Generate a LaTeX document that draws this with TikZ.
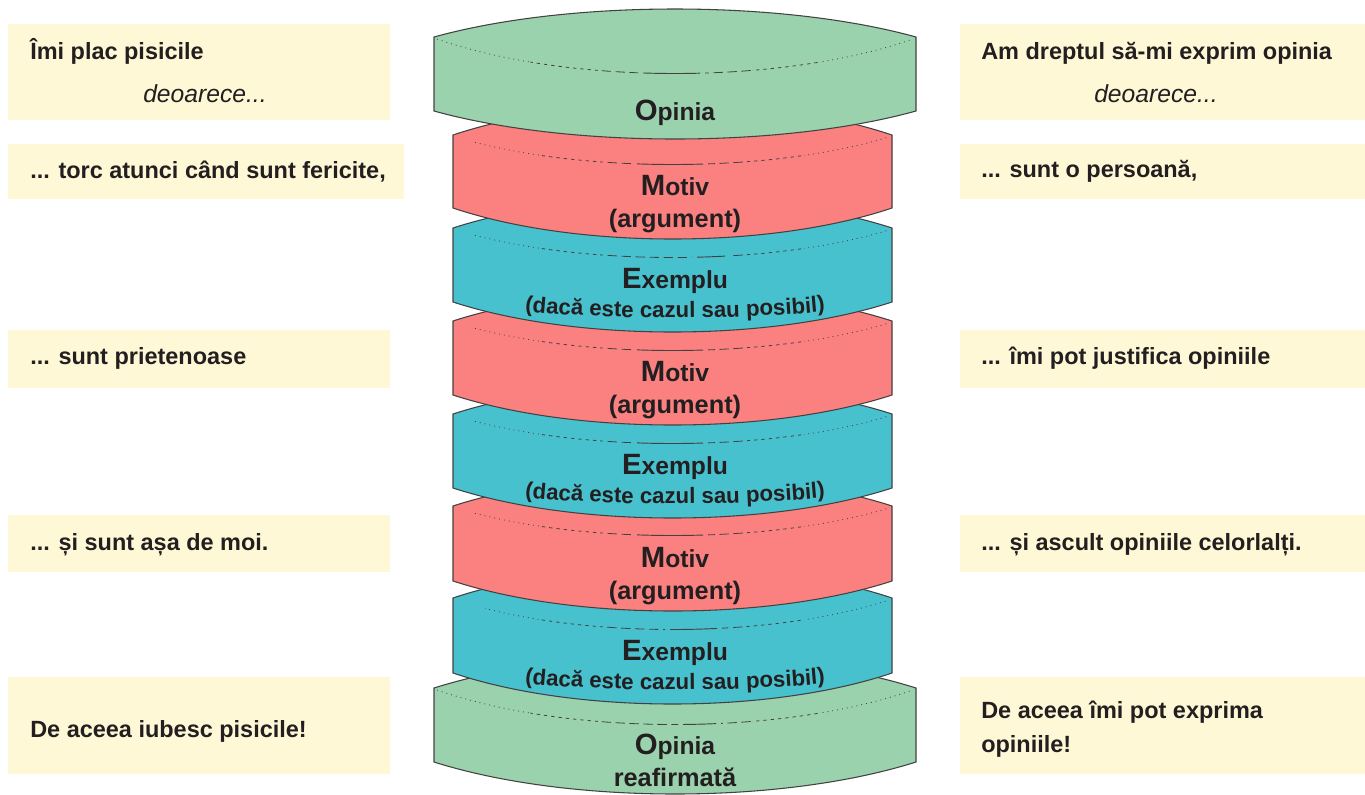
\documentclass[tikz,border=0pt]{standalone}
\usepackage{fontspec}
\setmainfont{Liberation Sans}
\usetikzlibrary{decorations.text}
\definecolor{cream}{HTML}{FFF8D6}
\definecolor{diskgreen}{HTML}{9BD2AE}
\definecolor{diskred}{HTML}{FB8181}
\definecolor{diskblue}{HTML}{48C1CF}
\definecolor{ink}{HTML}{231F20}
\newcommand{\disk}[6]{% xl xr ytop yside dip fill
  \draw[diskline,fill=#6] (#1,#3) .. controls ({#1+(#2-#1)*0.28},{#3-#5*4/3}) and ({#2-(#2-#1)*0.28},{#3-#5*4/3}) .. (#2,#3)
     -- (#2,#4) .. controls ({#2-(#2-#1)*0.28},{#4+#5*4/3}) and ({#1+(#2-#1)*0.28},{#4+#5*4/3}) .. (#1,#4) -- cycle;
}
\newcommand{\dashcurve}[7]{% xl xr ytop dip centre-from centre-to dotted-start
  \pgfmathsetmacro{\myW}{#2-#1}
  \pgfmathsetmacro{\myA}{#1+0.20*\myW}
  \pgfmathsetmacro{\myB}{#1+0.34*\myW}
  \pgfmathsetmacro{\myC}{#5-5}
  \pgfmathsetmacro{\myD}{#6+5}
  \pgfmathsetmacro{\myE}{#2-0.34*\myW}
  \pgfmathsetmacro{\myF}{#2-0.20*\myW}
  \foreach \from/\to/\sty in {#7/\myA/dotline,\myA/\myB/shortdash,\myB/\myC/longdash,#5/#6/solidline,\myD/\myE/longdash,\myE/\myF/shortdash,\myF/#2/dotline}{
    \begin{scope}
      \clip (\from,0) rectangle (\to,794);
      \draw[\sty] ({#1+3},{#3+2}) .. controls ({#1+(#2-#1)*0.28},{#3+#4*4/3}) and ({#2-(#2-#1)*0.28},{#3+#4*4/3}) .. ({#2-3},{#3+2});
    \end{scope}
  }
}
\tikzset{
  x=0.75pt,y=-0.75pt,
  diskline/.style={draw=ink!85,line width=0.8pt},
  dotline/.style={draw=ink!85,line width=0.6pt,dash pattern=on 0.7pt off 3pt},
  shortdash/.style={draw=ink!85,line width=0.6pt,dash pattern=on 2.5pt off 3pt},
  longdash/.style={draw=ink!85,line width=0.6pt,dash pattern=on 7pt off 3.5pt},
  solidline/.style={draw=ink!85,line width=0.7pt},
  textbox/.style={fill=cream,draw=none,anchor=north west,inner sep=0pt},
  boxtext/.style={anchor=base west,inner sep=0pt,font=\bfseries\fontsize{17.6}{20}\selectfont,text=ink},
  boxital/.style={anchor=base west,inner sep=0pt,font=\itshape\fontsize{18.5}{20}\selectfont,text=ink},
  disktext/.style={anchor=base,inner sep=0pt,font=\bfseries\fontsize{18.5}{20}\selectfont,text=ink},
  disksub/.style={anchor=base,inner sep=0pt,font=\bfseries\fontsize{19}{20}\selectfont,text=ink},
}
\newcommand{\capfont}{\fontsize{22}{20}\selectfont}
\newcommand{\smfont}{\bfseries\fontsize{16.7}{18}\selectfont}
\newcommand{\creambox}[5]{\node[textbox,minimum width={(#3-#1)*0.75pt},minimum height={(#4-#2)*0.75pt}] (#5) at (#1,#2) {};}
\begin{document}
\begin{tikzpicture}
\useasboundingbox (0,0) rectangle (1365,794);
% cream boxes
\creambox{8}{24}{390}{120}{la}
\creambox{8}{144}{404}{199}{lb}
\creambox{8}{330}{390}{388}{lc}
\creambox{8}{515}{390}{572}{ld}
\creambox{8}{677}{390}{774}{le}
\creambox{960}{24}{1365}{120}{ra}
\creambox{960}{144}{1365}{199}{rb}
\creambox{960}{330}{1365}{388}{rc}
\creambox{960}{515}{1365}{572}{rd}
\creambox{960}{677}{1365}{774}{re}
% disks, lowest first
\disk{434}{916}{688}{762}{32}{diskgreen}
\dashcurve{434}{916}{688}{36}{683}{716}{434}
\disk{453}{892}{598}{673}{31}{diskblue}
\dashcurve{453}{892}{598}{31}{670}{717}{485}
\disk{453}{892}{506}{581}{30}{diskred}
\dashcurve{453}{892}{506}{29}{637}{703}{473}
\disk{453}{892}{414}{488}{30}{diskblue}
\dashcurve{453}{892}{414}{29}{637}{703}{473}
\disk{453}{892}{321}{395}{30}{diskred}
\dashcurve{453}{892}{321}{29}{637}{703}{473}
\disk{453}{892}{228}{302}{30}{diskblue}
\dashcurve{453}{892}{228}{29}{697}{725}{473}
\disk{453}{892}{135}{208}{31}{diskred}
\dashcurve{453}{892}{135}{29}{637}{703}{473}
\disk{434}{916}{37}{111}{28}{diskgreen}
\dashcurve{434}{916}{37}{36}{643}{700}{434}
% disk labels
\node[disktext] (t1) at (675,120) {{\capfont O}pinia};
\node[disktext] (t2) at (675,195) {{\capfont M}otiv};
\node[disksub] (t3) at (675,227) {(argument)};
\node[disktext] (t4) at (675,288) {{\capfont E}xemplu};
\node[disktext] (t6) at (675,381) {{\capfont M}otiv};
\node[disksub] (t7) at (675,413) {(argument)};
\node[disktext] (t8) at (675,474) {{\capfont E}xemplu};
\node[disktext] (t10) at (675,567) {{\capfont M}otiv};
\node[disksub] (t11) at (675,599) {(argument)};
\node[disktext] (t12) at (675,660) {{\capfont E}xemplu};
\node[disktext] (t14) at (675,754) {{\capfont O}pinia};
\node[disksub] (t15) at (675,786) {reafirmată};
% curved captions
\foreach \b in {318,504,690}{
  \path[postaction={decorate},decoration={text along path,text align=center,
    text={|\smfont\color{ink}|(dacă este cazul sau posibil)}}]
    (522,\b-7) .. controls (610,\b+2) and (740,\b+2) .. (828,\b-7);
}
% left texts
\node[boxtext] (a1) at (30,59) {Îmi plac pisicile};
\node[boxital] (a2) at (143,102) {deoarece...};
\node[boxtext] (a3) at (30,178) {... torc atunci când sunt fericite,};
\node[boxtext] (a4) at (30,364) {... sunt prietenoase};
\node[boxtext] (a5) at (30,550) {... și sunt așa de moi.};
\node[boxtext] (a6) at (30,737) {De aceea iubesc pisicile!};
% right texts
\node[boxtext] (b1) at (981,59) {Am dreptul să-mi exprim opinia};
\node[boxital] (b2) at (1094,102) {deoarece...};
\node[boxtext] (b3) at (981,177) {... sunt o persoană,};
\node[boxtext] (b4) at (981,364) {... îmi pot justifica opiniile};
\node[boxtext] (b5) at (981,550) {... și ascult opiniile celorlalți.};
\node[boxtext] (b6) at (981,718) {De aceea îmi pot exprima};
\node[boxtext] (b7) at (981,752) {opiniile!};
\end{tikzpicture}
\end{document}
